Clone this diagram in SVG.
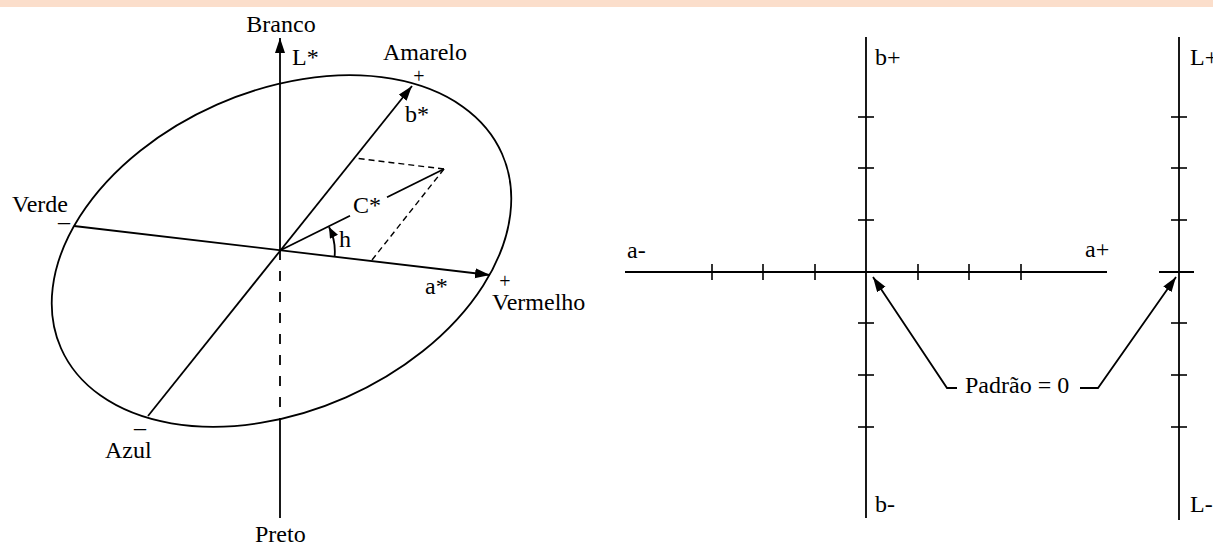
<svg xmlns="http://www.w3.org/2000/svg" width="1213" height="545" viewBox="0 0 1213 545">
<style>
.ln{stroke:#000;stroke-width:1.8;fill:none}
.ds{stroke:#000;stroke-width:1.8;fill:none;stroke-dasharray:10 11}
.ds2{stroke:#000;stroke-width:1.4;fill:none;stroke-dasharray:6 4}
.tk{stroke:#000;stroke-width:1.6}
text{font-family:"Liberation Serif","Times New Roman",serif;font-size:24px;fill:#000}
.sm{font-size:20px}
</style>
<defs>
<marker id="ah" markerUnits="userSpaceOnUse" markerWidth="16" markerHeight="11" refX="15" refY="5" orient="auto">
<path d="M0,0 L15,5 L0,10 z" fill="#000"/>
</marker>
<marker id="ahs" markerUnits="userSpaceOnUse" markerWidth="12" markerHeight="10" refX="11" refY="4.5" orient="auto">
<path d="M0,0 L11,4.5 L0,9 z" fill="#000"/>
</marker>
</defs>
<rect x="0" y="0" width="1213" height="7" fill="#FBDECB"/>
<g id="ellipse">
<ellipse cx="281.5" cy="251" rx="241" ry="160" transform="rotate(-23.8 281.5 251)" class="ln"/>
</g>
<g id="connectors">
<line x1="280" y1="250" x2="280" y2="38" class="ln" marker-end="url(#ah)"/>
<line x1="280" y1="250" x2="280" y2="419" class="ds"/>
<line x1="280" y1="419" x2="280" y2="518" class="ln"/>
<line x1="148" y1="416" x2="412" y2="86" class="ln" marker-end="url(#ah)"/>
<line x1="74" y1="226" x2="490" y2="275" class="ln" marker-end="url(#ah)"/>
<line x1="281" y1="250" x2="350" y2="215.7" class="ln"/>
<line x1="387" y1="197.3" x2="444" y2="169" class="ln"/>
<line x1="444" y1="169" x2="354" y2="158" class="ds2"/>
<line x1="444" y1="169" x2="372" y2="260" class="ds2"/>
<path d="M334.6,256.4 A54,54 0 0 0 329,227" class="ln" stroke-width="1.6" marker-end="url(#ahs)"/>
<line x1="866" y1="37" x2="866" y2="518" class="ln"/>
<line x1="625" y1="272" x2="1107" y2="272" class="ln"/>
<line x1="1179" y1="37" x2="1179" y2="520" class="ln"/>
<line x1="1159" y1="272" x2="1194" y2="272" class="ln"/>
<g class="tk">
<line x1="712" y1="264" x2="712" y2="280"/>
<line x1="763" y1="264" x2="763" y2="280"/>
<line x1="815" y1="264" x2="815" y2="280"/>
<line x1="918" y1="264" x2="918" y2="280"/>
<line x1="969" y1="264" x2="969" y2="280"/>
<line x1="1021" y1="264" x2="1021" y2="280"/>
<line x1="858" y1="117" x2="874" y2="117"/>
<line x1="858" y1="168" x2="874" y2="168"/>
<line x1="858" y1="220" x2="874" y2="220"/>
<line x1="858" y1="323" x2="874" y2="323"/>
<line x1="858" y1="375" x2="874" y2="375"/>
<line x1="858" y1="427" x2="874" y2="427"/>
<line x1="1171" y1="117" x2="1187" y2="117"/>
<line x1="1171" y1="168" x2="1187" y2="168"/>
<line x1="1171" y1="220" x2="1187" y2="220"/>
<line x1="1171" y1="323" x2="1187" y2="323"/>
<line x1="1171" y1="375" x2="1187" y2="375"/>
<line x1="1171" y1="427" x2="1187" y2="427"/>
</g>
<polyline points="957,388 947,388 873,277" class="ln" stroke-width="1.5" marker-end="url(#ah)"/>
<polyline points="1080,388 1098,388 1176,277" class="ln" stroke-width="1.5" marker-end="url(#ah)"/>
</g>
<g id="labels-left">
<text x="281" y="32" text-anchor="middle">Branco</text>
<text x="292" y="65">L*</text>
<text x="383" y="60">Amarelo</text>
<text x="419" y="83" class="sm" text-anchor="middle">+</text>
<text x="405" y="122">b*</text>
<text x="12" y="212">Verde</text>
<text x="64" y="229" font-size="20" text-anchor="middle">–</text>
<text x="353" y="213">C*</text>
<text x="339" y="247">h</text>
<text x="425" y="294">a*</text>
<text x="505" y="288" class="sm" text-anchor="middle">+</text>
<text x="492" y="310">Vermelho</text>
<text x="140" y="435" font-size="20" text-anchor="middle">–</text>
<text x="105" y="458">Azul</text>
<text x="255" y="542">Preto</text>
</g>
<g id="labels-right">
<text x="875" y="65">b+</text>
<text x="875" y="512">b-</text>
<text x="627" y="258">a-</text>
<text x="1085" y="257">a+</text>
<text x="1190" y="65">L+</text>
<text x="1190" y="512">L-</text>
<text x="965" y="393">Padrão = 0</text>
</g>
</svg>
